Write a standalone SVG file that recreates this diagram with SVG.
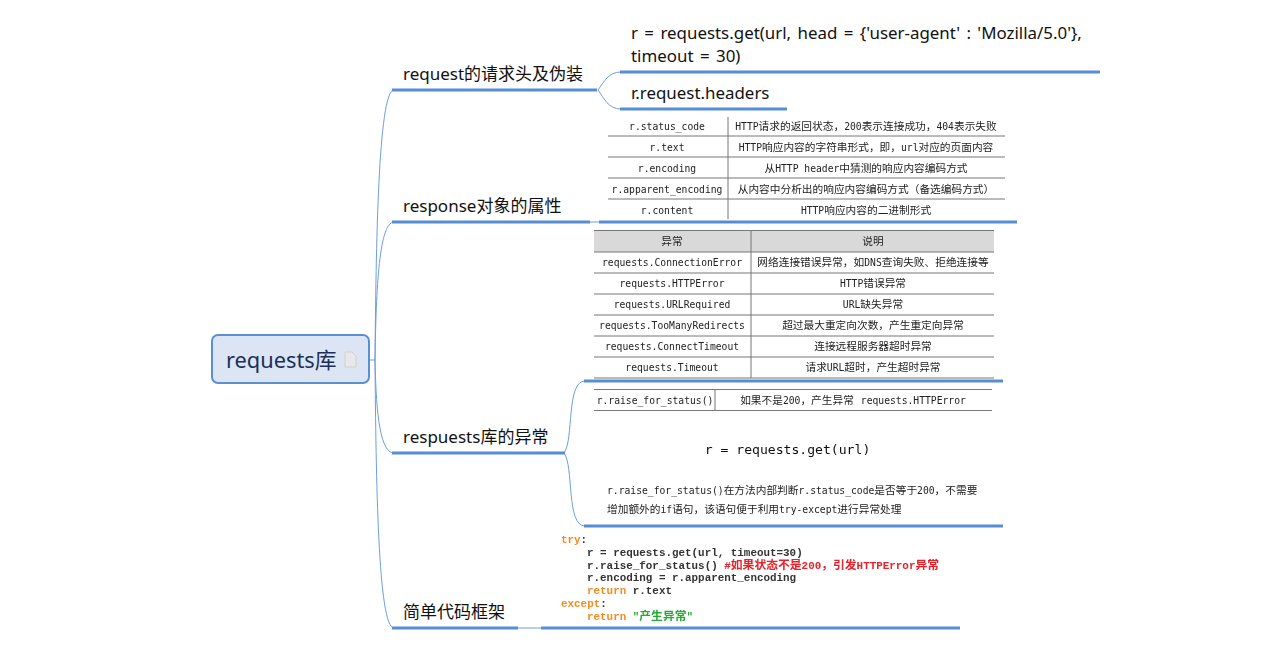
<svg xmlns="http://www.w3.org/2000/svg" width="1267" height="655" viewBox="0 0 1267 655">
<defs>
<style>
.t{font-family:"Noto Sans","Noto Sans CJK SC",sans-serif;fill:#111}
.l{font-size:17px}
.s{font-size:16.900px;word-spacing:2px}
.m{font-family:"DejaVu Sans Mono","Noto Sans CJK SC",monospace;font-size:9.7px;fill:#222}
.c{text-anchor:middle}
.z{font-family:"Noto Sans CJK SC",sans-serif;font-size:10.7px}
.g{stroke:#777;stroke-width:1;fill:none}
.k{stroke:#558ed5;stroke-width:3;fill:none}
.n{stroke:#6d9fdc;stroke-width:1;fill:none}
.p{font-family:"Liberation Mono","Noto Sans CJK SC",monospace;font-size:10.9px;font-weight:bold;fill:#333}
.y{font-size:11.8px}
.o{fill:#f58a1f}
.r{fill:#e8202a}
.v{fill:#27a836}
</style>
<filter id="b" x="-2%" y="-2%" width="104%" height="104%"><feGaussianBlur stdDeviation="0.3"/></filter>
</defs>
<g id="connectors">
<path class="n" d="M370 360H375"/>
<path class="n" d="M375 360C376 250 378 90 394 90"/>
<path class="n" d="M375 360C376 300 378 222 394 222"/>
<path class="n" d="M375 360C376 400 378 453 394 453"/>
<path class="n" d="M375 360C376 480 378 628 394 628"/>
<path class="n" d="M598 90C604 82 608 72 621 72"/>
<path class="n" d="M598 90C604 98 608 109 621 109"/>
<path class="n" d="M564 453C574 440 566 381 585 381"/>
<path class="n" d="M564 453C574 466 566 526 585 526"/>
<path class="n" d="M518 628H541"/>
<path class="n" d="M590 222H599"/>
<path class="k" d="M392 90H597"/>
<path class="k" d="M620 72H1100"/>
<path class="k" d="M620 109H787"/>
<path class="k" d="M392 222H590"/>
<path class="k" d="M599 222H1017"/>
<path class="k" d="M392 453H565"/>
<path class="k" d="M584 381H1003"/>
<path class="k" d="M584 526H1003"/>
<path class="k" d="M392 628H518"/>
<path class="k" d="M541 628H960"/>
</g>
<g id="root">
<rect x="212" y="335" width="157" height="48" rx="6" fill="#dbe5f3" stroke="#5b8fd3" stroke-width="2"/>
<text class="t" x="226" y="368" font-size="21.800" style="fill:#1b2f58">requests库</text>
<path d="M345 352H352L356 356V367H345Z" fill="#e8e8e8" stroke="#d0d0d0"/>
</g>
<g id="n-request"><text class="t l" x="403" y="80">request的请求头及伪装</text></g>
<g id="n-get"><text class="t s" x="631" y="39">r = requests.get(url, head = {'user-agent' : 'Mozilla/5.0'},</text><text class="t s" x="631" y="62">timeout = 30)</text></g>
<g id="n-headers"><text class="t s" x="631" y="99">r.request.headers</text></g>
<g id="n-response"><text class="t l" x="403" y="212">response对象的属性</text></g>
<g id="n-attrs" filter="url(#b)">
<path class="g" d="M608 136H1005M608 157H1005M608 178H1005M608 199H1005M728 117V219"/>
<text class="m c" x="667" y="130">r.status_code</text>
<text class="m c" x="667" y="151">r.text</text>
<text class="m c" x="667" y="172">r.encoding</text>
<text class="m c" x="667" y="193">r.apparent_encoding</text>
<text class="m c" x="667" y="214">r.content</text>
<text class="m c" x="866" y="130">HTTP<tspan class="z">请求的返回状态，</tspan>200<tspan class="z">表示连接成功，</tspan>404<tspan class="z">表示失败</tspan></text>
<text class="m c" x="866" y="151">HTTP<tspan class="z">响应内容的字符串形式，即，</tspan>url<tspan class="z">对应的页面内容</tspan></text>
<text class="m c" x="866" y="172"><tspan class="z">从</tspan>HTTP header<tspan class="z">中猜测的响应内容编码方式</tspan></text>
<text class="m c" x="866" y="193"><tspan class="z">从内容中分析出的响应内容编码方式（备选编码方式）</tspan></text>
<text class="m c" x="866" y="214">HTTP<tspan class="z">响应内容的二进制形式</tspan></text>
</g>
<g id="n-exceptions"><text class="t l" x="403" y="443">respuests库的异常</text></g>
<g id="n-table" filter="url(#b)">
<rect x="594" y="231" width="400" height="21" fill="#d9d9d9"/>
<path class="g" d="M594 230.500H994M594 252H994M594 273H994M594 294H994M594 315H994M594 336H994M594 357H994M594 378H994M751 231V378"/>
<text class="m c" x="672" y="245"><tspan class="z">异常</tspan></text>
<text class="m c" x="873" y="245"><tspan class="z">说明</tspan></text>
<text class="m c" x="672" y="266">requests.ConnectionError</text>
<text class="m c" x="672" y="287">requests.HTTPError</text>
<text class="m c" x="672" y="308">requests.URLRequired</text>
<text class="m c" x="672" y="329">requests.TooManyRedirects</text>
<text class="m c" x="672" y="350">requests.ConnectTimeout</text>
<text class="m c" x="672" y="371">requests.Timeout</text>
<text class="m c" x="873" y="266"><tspan class="z">网络连接错误异常，如</tspan>DNS<tspan class="z">查询失败、拒绝连接等</tspan></text>
<text class="m c" x="873" y="287">HTTP<tspan class="z">错误异常</tspan></text>
<text class="m c" x="873" y="308">URL<tspan class="z">缺失异常</tspan></text>
<text class="m c" x="873" y="329"><tspan class="z">超过最大重定向次数，产生重定向异常</tspan></text>
<text class="m c" x="873" y="350"><tspan class="z">连接远程服务器超时异常</tspan></text>
<text class="m c" x="873" y="371"><tspan class="z">请求</tspan>URL<tspan class="z">超时，产生超时异常</tspan></text>
</g>
<g id="n-raise" filter="url(#b)">
<path class="g" d="M594 389.500H992M594 410.500H992M715 389V411"/>
<text class="m c" x="655" y="404">r.raise_for_status()</text>
<text class="m c" x="853" y="404"><tspan class="z">如果不是</tspan>200<tspan class="z">，产生异常</tspan><tspan dx="7">requests.HTTPError</tspan></text>
<text class="m c" x="787.500" y="454" style="font-size:13.100px;fill:#111">r = requests.get(url)</text>
<text class="m" x="607" y="494">r.raise_for_status()<tspan class="z">在方法内部判断</tspan>r.status_code<tspan class="z">是否等于</tspan>200<tspan class="z">，不需要</tspan></text>
<text class="m" x="607" y="513"><tspan class="z">增加额外的</tspan>if<tspan class="z">语句，该语句便于利用</tspan>try-except<tspan class="z">进行异常处理</tspan></text>
</g>
<g id="n-simple"><text class="t l" x="403" y="618">简单代码框架</text></g>
<g id="n-code" filter="url(#b)">
<text class="p" x="561" y="543"><tspan class="o">try</tspan>:</text>
<text class="p" x="587" y="556">r = requests.get(url, timeout=30)</text>
<text class="p" x="587" y="569">r.raise_for_status() <tspan class="r">#<tspan class="y">如果状态不是</tspan>200<tspan class="y">，引发</tspan>HTTPError<tspan class="y">异常</tspan></tspan></text>
<text class="p" x="587" y="581">r.encoding = r.apparent_encoding</text>
<text class="p" x="587" y="594"><tspan class="o">return</tspan> r.text</text>
<text class="p" x="561" y="607"><tspan class="o">except</tspan>:</text>
<text class="p" x="587" y="620"><tspan class="o">return</tspan> <tspan class="v">"<tspan class="y">产生异常</tspan>"</tspan></text>
</g>
</svg>
